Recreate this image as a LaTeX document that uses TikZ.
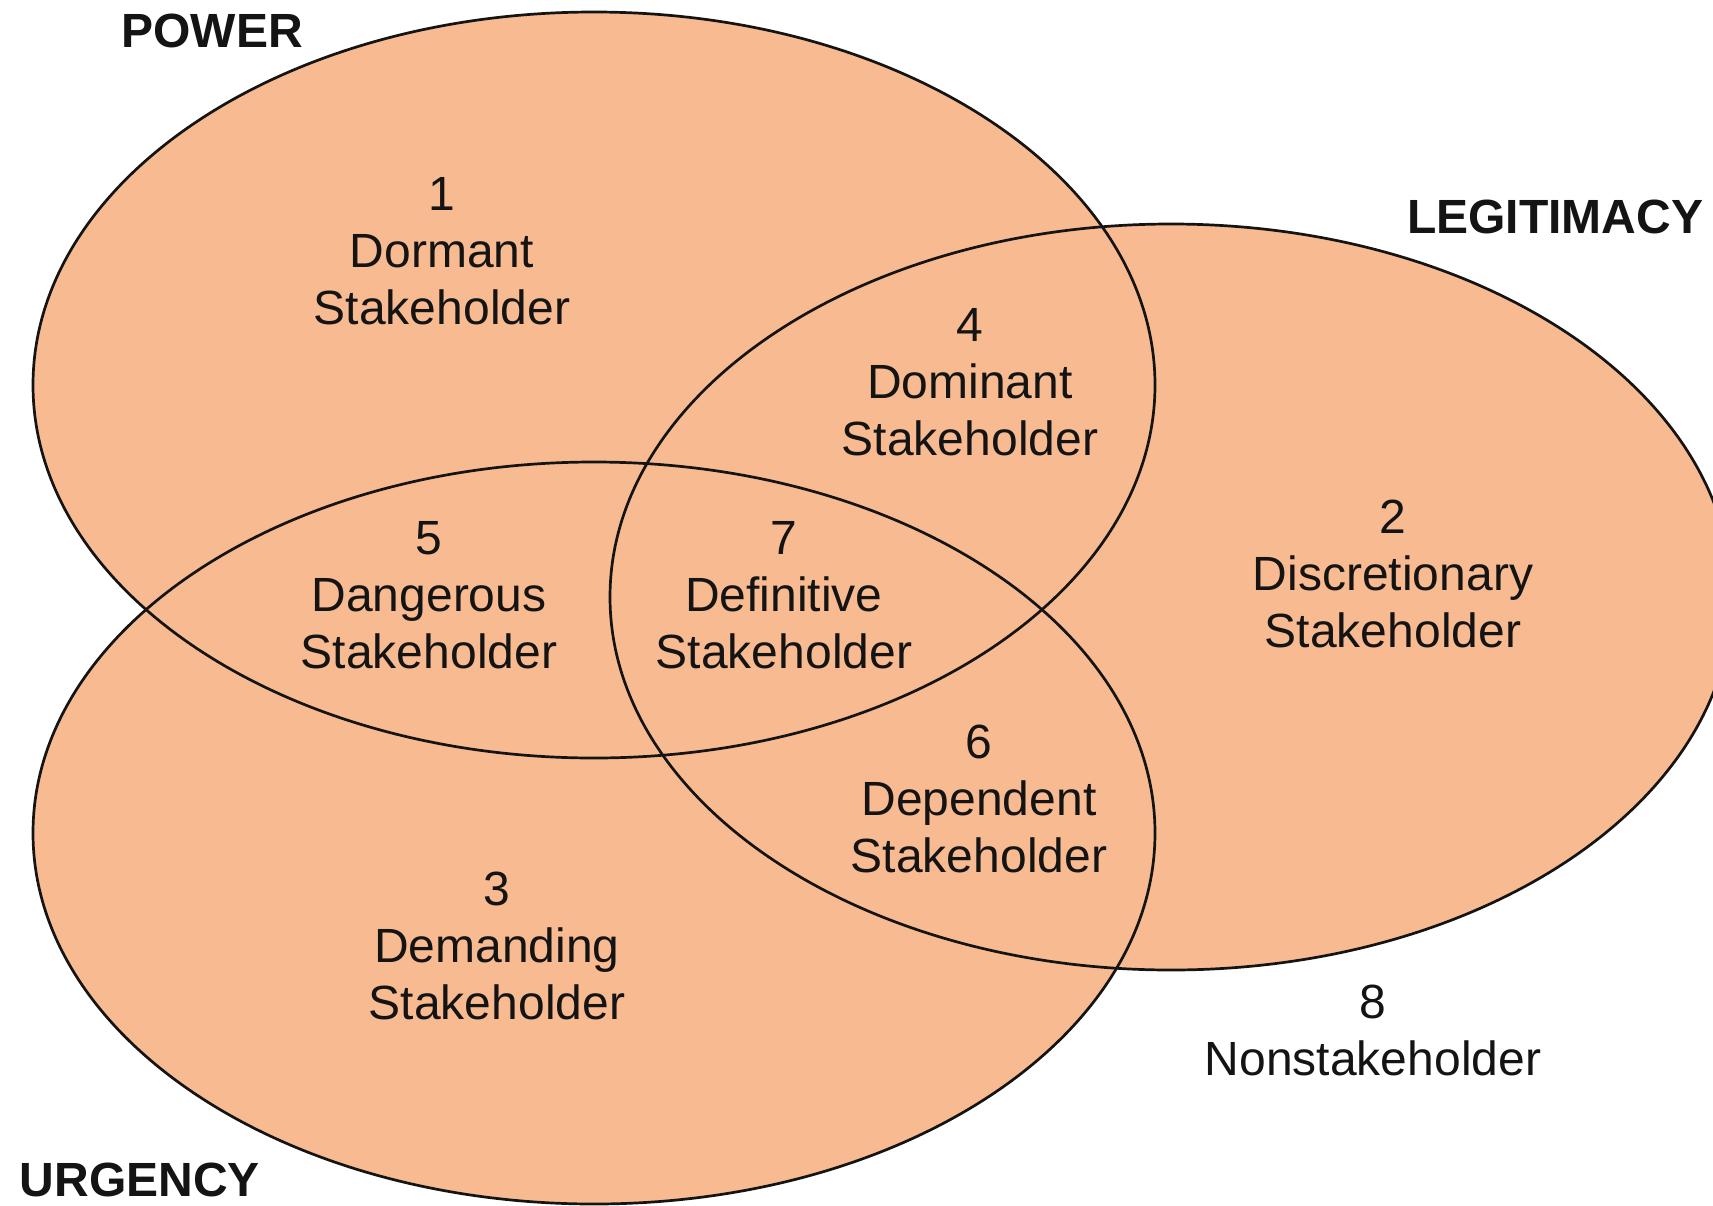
\documentclass[tikz,border=0pt]{standalone}
\usepackage{fontspec}
\setmainfont{Liberation Sans}
\definecolor{peach}{RGB}{248,186,144}
\definecolor{ink}{RGB}{20,20,20}
\begin{document}
\begin{tikzpicture}[x=1pt,y=-1pt,
  setfill/.style={fill=peach},
  setline/.style={draw=ink,line width=2.7pt},
  lbl/.style={text=ink,align=center,inner sep=0pt,font=\fontsize{48}{57}\selectfont},
  title/.style={text=ink,inner sep=0pt,font=\fontsize{48}{57}\selectfont\bfseries}]
\useasboundingbox (0,0) rectangle (1713,1205);
\fill[white] (0,0) rectangle (1713,1205);
\begin{scope}
\clip (0,0) rectangle (1713,1205);
\fill[setfill] (594,385) ellipse [x radius=561pt, y radius=373pt];
\fill[setfill] (1171,597) ellipse [x radius=561pt, y radius=373pt];
\fill[setfill] (594,833) ellipse [x radius=561pt, y radius=371pt];
\draw[setline] (594,385) ellipse [x radius=561pt, y radius=373pt];
\draw[setline] (1171,597) ellipse [x radius=561pt, y radius=373pt];
\draw[setline] (594,833) ellipse [x radius=561pt, y radius=371pt];
\end{scope}
\node[title] (power) at (212,31) {POWER};
\node[title] (legit) at (1555,217) {LEGITIMACY};
\node[title] (urg) at (140,1180) {URGENCY};
\node[lbl] (s1) at (442,251) {1\\Dormant\\Stakeholder};
\node[lbl] (s4) at (970,382) {4\\Dominant\\Stakeholder};
\node[lbl] (s2) at (1393,574) {2\\Discretionary\\Stakeholder};
\node[lbl] (s5) at (429,595) {5\\Dangerous\\Stakeholder};
\node[lbl] (s7) at (784,595) {7\\Definitive\\Stakeholder};
\node[lbl] (s6) at (979,799) {6\\Dependent\\Stakeholder};
\node[lbl] (s3) at (497,946) {3\\Demanding\\Stakeholder};
\node[lbl] (s8) at (1373,1030) {8\\Nonstakeholder};
\end{tikzpicture}
\end{document}
